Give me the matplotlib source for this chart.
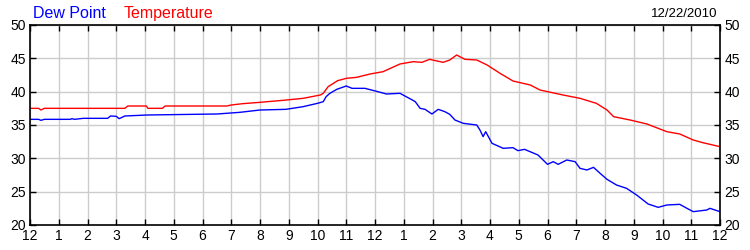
import matplotlib.pyplot as plt

plt.rcParams['font.family'] = ['Liberation Sans', 'DejaVu Sans']

# hours since midnight
temp_hours = [0, 0.3, 0.38, 0.5, 3.3, 3.4, 4.05, 4.1, 4.6, 4.7, 6.85, 7.0, 7.4, 8.0, 8.8, 9.5, 10.1, 10.2,
              10.37, 10.7, 11.0, 11.36, 11.83, 12.28, 12.87, 13.33, 13.63, 13.9, 14.37, 14.6, 14.84,
              15.13, 15.54, 15.9, 16.35, 16.8, 17.4, 17.74, 18.54, 19.13, 19.7, 20.07, 20.3, 20.87,
              21.46, 22.15, 22.6, 23.07, 23.4, 24]
temp_vals = [37.5, 37.5, 37.25, 37.5, 37.5, 37.85, 37.85, 37.5, 37.5, 37.85, 37.85, 38.0, 38.2, 38.4, 38.7,
             39.0, 39.5, 39.75, 40.75, 41.65, 42.0, 42.15, 42.65, 43.0, 44.15, 44.5, 44.4, 44.85, 44.4,
             44.75, 45.5, 44.85, 44.75, 44.0, 42.75, 41.6, 41.0, 40.25, 39.5, 39.0, 38.25, 37.25, 36.25,
             35.75, 35.15, 34.0, 33.65, 32.75, 32.35, 31.75]

dew_hours = [0, 0.3, 0.38, 0.5, 1.4, 1.46, 1.55, 1.85, 2.7, 2.8, 3.0, 3.1, 3.3, 4.07, 6.5, 7.3, 8.0, 8.9,
             9.5, 10.0, 10.2, 10.3, 10.43, 10.67, 11.0, 11.2, 11.65, 12.1, 12.4, 12.87, 13.04, 13.3,
             13.4, 13.57, 13.74, 13.98, 14.2, 14.43, 14.6, 14.78, 15.07, 15.54, 15.65, 15.76, 15.85,
             16.07, 16.46, 16.8, 16.97, 17.2, 17.67, 18.0, 18.2, 18.37, 18.67, 18.96, 19.13, 19.37,
             19.6, 19.83, 20.07, 20.4, 20.75, 21.1, 21.5, 21.85, 22.15, 22.6, 22.85, 23.07, 23.54,
             23.65, 24]
dew_vals = [35.85, 35.85, 35.7, 35.85, 35.85, 35.95, 35.85, 36.0, 36.0, 36.35, 36.3, 35.95, 36.35, 36.5,
            36.65, 36.9, 37.25, 37.35, 37.75, 38.25, 38.5, 39.25, 39.75, 40.35, 40.85, 40.5, 40.5, 40.0,
            39.65, 39.75, 39.35, 38.75, 38.5, 37.5, 37.35, 36.65, 37.35, 37.0, 36.6, 35.75, 35.25, 35.0,
            34.25, 33.25, 34.0, 32.25, 31.5, 31.6, 31.15, 31.35, 30.5, 29.1, 29.5, 29.1, 29.75, 29.5,
            28.5, 28.25, 28.65, 27.75, 26.85, 26.0, 25.5, 24.5, 23.15, 22.65, 23.0, 23.1, 22.5, 22.0,
            22.25, 22.5, 22.0]

tick_labels = ['12'] + [str(h) for h in range(1, 12)] + ['12'] + [str(h) for h in range(1, 12)] + ['12']

fig = plt.figure(figsize=(7.5, 2.5), dpi=100)
ax = fig.add_axes([0.04, 0.1, 0.92, 0.8])

ax.plot(temp_hours, temp_vals, color='red', lw=1.0)
ax.plot(dew_hours, dew_vals, color='blue', lw=1.0)

ax.set_xlim(0, 24)
ax.set_ylim(20, 50)
ax.set_xticks(range(25))
ax.set_xticklabels(tick_labels)
ax.set_yticks(range(20, 51, 5))
ax.grid(True, color='#cccccc', lw=1.0)
ax.set_axisbelow(True)
ax.tick_params(direction='in', length=4, width=1, top=True, right=True,
               labelright=True, labelsize=10, pad=3)
for s in ax.spines.values():
    s.set_linewidth(1.2)

fig.text(0.044, 0.945, 'Dew Point', color='blue', fontsize=11.5, va='center', ha='left')
fig.text(0.165, 0.945, 'Temperature', color='red', fontsize=11.5, va='center', ha='left')
fig.text(0.957, 0.945, '12/22/2010', color='black', fontsize=9.5, va='center', ha='right')

fig.savefig('out.png', dpi=100)
